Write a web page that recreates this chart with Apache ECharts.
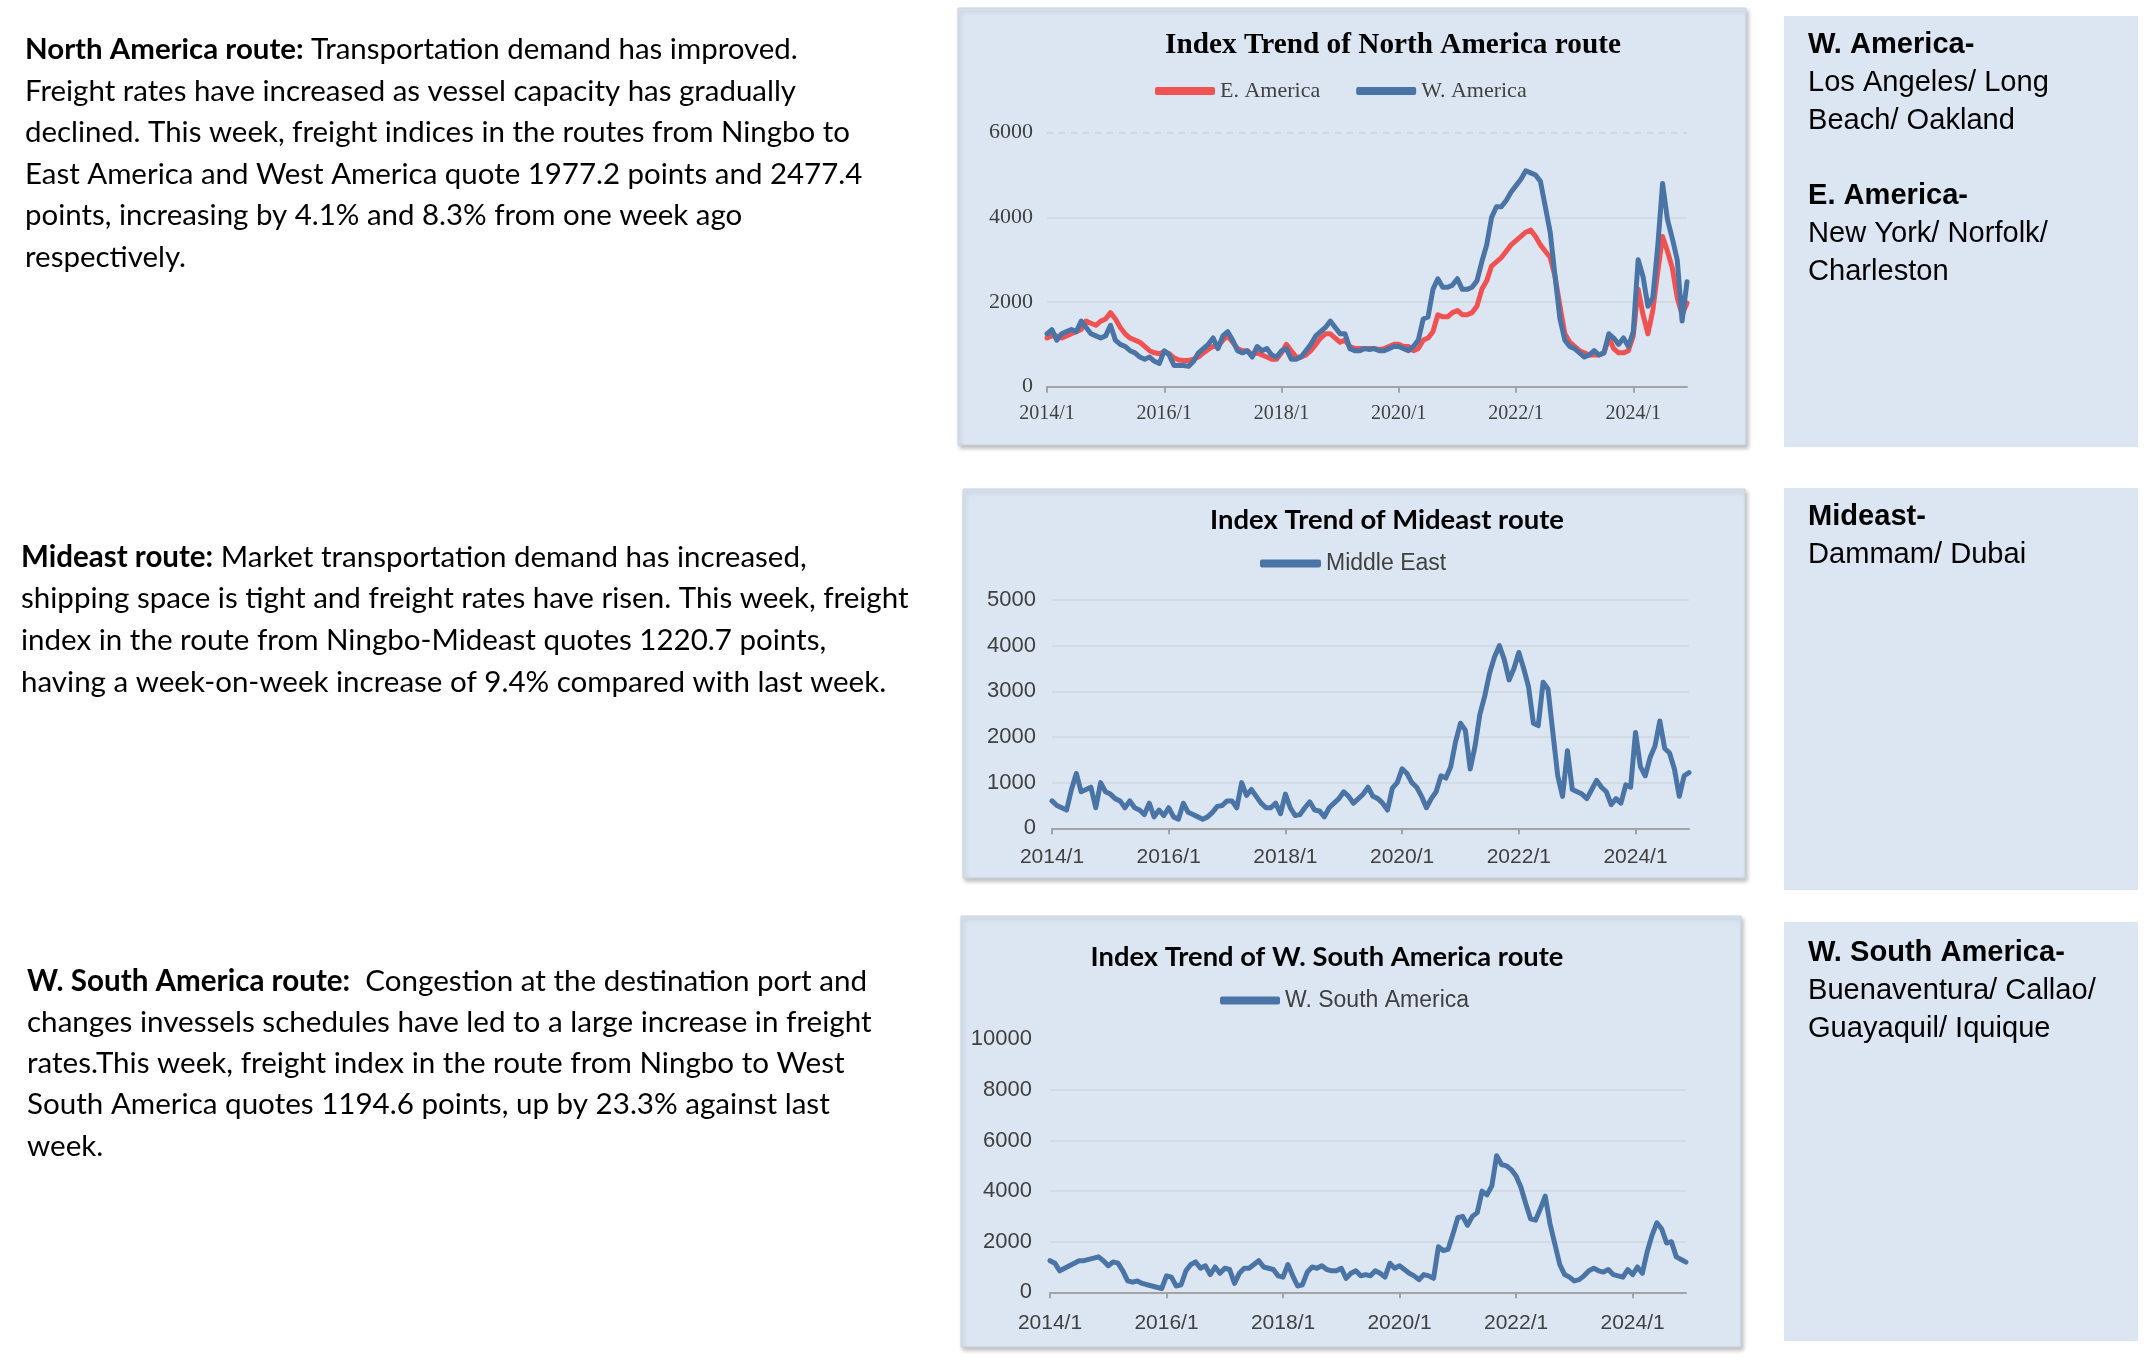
<!DOCTYPE html>
<html><head><meta charset="utf-8">
<script src="https://cdn.jsdelivr.net/npm/echarts@6/dist/echarts.min.js"></script>
<style>html,body{margin:0;padding:0;background:#fff;}#c{width:2146px;height:1362px;}</style>
</head><body><div id="c"></div>
<script>
// ---- categories (monthly, 2014/1 .. 2024/12) ----
const months = [];
for (let y = 2014; y <= 2024; y++) for (let m = 1; m <= 12; m++) months.push(y + '/' + m);

// ---- series values (monthly) ----
const eastAmerica = [
  1150,1200,1200,1150,1200,1250,1300,1350,1550,1500,1450,1550,
  1600,1750,1600,1400,1250,1150,1100,1050,950,850,800,780,
  820,780,680,630,620,620,650,700,800,880,950,950,
  1100,1200,1050,900,850,850,750,800,750,700,650,650,
  800,1000,850,700,700,750,850,1000,1150,1250,1250,1150,
  1050,1100,950,900,900,900,900,900,880,900,950,1000,
  1000,950,950,850,900,1100,1150,1300,1700,1650,1650,1750,
  1800,1700,1700,1750,1900,2300,2500,2850,2950,3050,3200,3350,
  3450,3550,3650,3700,3550,3350,3200,3050,2600,1900,1250,1050,
  950,850,800,750,750,750,800,1150,900,800,800,850,
  1200,2300,1700,1250,1800,2700,3550,3200,2800,2100,1700,1977.2
];
const westAmerica = [
  1250,1350,1100,1250,1300,1350,1300,1550,1400,1250,1200,1150,
  1200,1450,1100,1000,950,850,800,700,650,700,600,550,
  850,750,500,500,500,480,600,800,900,1000,1150,900,
  1200,1300,1100,850,800,850,700,950,850,900,750,700,
  850,900,650,650,700,850,1000,1200,1300,1400,1550,1400,
  1250,1250,900,850,850,900,880,900,850,850,900,950,
  950,900,850,950,1100,1600,1650,2300,2550,2350,2350,2400,
  2550,2300,2300,2350,2500,2950,3350,4000,4250,4250,4400,4600,
  4750,4900,5100,5050,5000,4850,4250,3650,2600,1600,1100,950,
  900,800,700,750,850,750,800,1250,1150,1000,1150,950,
  1300,3000,2600,1900,2100,3300,4800,3950,3500,3000,1550,2477.4
];
const middleEast = [
  600,500,450,400,850,1200,800,850,900,450,1000,800,
  750,650,600,450,600,450,400,300,550,250,400,280,
  450,250,200,550,350,300,250,200,250,350,480,500,
  600,600,450,1000,720,850,700,550,450,450,550,320,
  750,450,280,300,450,580,400,380,250,450,550,650,
  800,700,550,650,750,900,700,650,550,400,880,1000,
  1300,1200,1000,900,700,450,650,800,1150,1100,1350,1900,
  2300,2150,1300,1800,2500,2900,3400,3750,4000,3700,3250,3500,
  3850,3500,3100,2300,2250,3200,3050,2100,1150,700,1700,850,
  800,750,650,850,1050,900,800,520,650,550,950,900,
  2100,1350,1150,1550,1800,2350,1750,1650,1300,700,1150,1220.7
];
const westSouthAmerica = [
  1250,1150,850,950,1050,1150,1250,1250,1300,1350,1400,1250,
  1050,1200,1150,850,450,400,450,350,300,250,200,150,
  650,600,250,300,850,1100,1200,950,1050,700,1000,750,
  950,900,350,750,950,950,1100,1250,1000,950,900,650,
  600,1100,650,250,300,800,1000,950,1050,900,850,850,
  950,550,750,850,650,700,650,850,750,600,1150,950,
  1050,900,750,650,500,700,650,550,1800,1650,1700,2300,
  2950,3000,2650,3000,3150,4000,3850,4200,5400,5050,5000,4850,
  4600,4150,3500,2900,2850,3300,3800,2700,1900,1100,700,600,
  450,500,650,850,950,850,800,900,700,650,600,900,
  700,1000,750,1600,2250,2750,2500,1950,2000,1400,1300,1194.6
];

// ---- axis ticks ----
const naTicks = { min: 0, max: 6000, interval: 2000 };
const meTicks = { min: 0, max: 5000, interval: 1000 };
const wsaTicks = { min: 0, max: 10000, interval: 2000 };
const labelEvery = 24; // 2014/1, 2016/1, ...

const RED = '#f05252', BLUE = '#4a74a6', PANEL = '#dce6f2';
const SERIF = "'Liberation Serif','Times New Roman',serif";
const SANS = "'Liberation Sans',Arial,sans-serif";
const CAL = "Lato,'Noto Sans',sans-serif";

const ctx = document.createElement('canvas').getContext('2d');
function fit(text, weight, family, target) {
  ctx.font = weight + ' 100px ' + family;
  return 100 * target / ctx.measureText(text).width;
}

const p1 = [
  ['North America route:', ' Transportation demand has improved.'],
  ['', 'Freight rates have increased as vessel capacity has gradually'],
  ['', 'declined. This week, freight indices in the routes from Ningbo to'],
  ['', 'East America and West America quote 1977.2 points and 2477.4'],
  ['', 'points, increasing by 4.1% and 8.3% from one week ago'],
  ['', 'respectively.']
];
const p2 = [
  ['Mideast route:', ' Market transportation demand has increased,'],
  ['', 'shipping space is tight and freight rates have risen. This week, freight'],
  ['', 'index in the route from Ningbo-Mideast quotes 1220.7 points,'],
  ['', 'having a week-on-week increase of 9.4% compared with last week.']
];
const p3 = [
  ['W. South America route:', '  Congestion at the destination port and'],
  ['', 'changes invessels schedules have led to a large increase in freight'],
  ['', 'rates.This week, freight index in the route from Ningbo to West'],
  ['', 'South America quotes 1194.6 points, up by 23.3% against last'],
  ['', 'week.']
];
const boxes = [
  { x: 1784, y: 16, w: 354, h: 431, lines: [['W. America-', 1], ['Los Angeles/ Long', 0], ['Beach/ Oakland', 0], ['', 0], ['E. America-', 1], ['New York/ Norfolk/', 0], ['Charleston', 0]], y0: 45 },
  { x: 1784, y: 488, w: 354, h: 402, lines: [['Mideast-', 1], ['Dammam/ Dubai', 0]], y0: 517 },
  { x: 1784, y: 922, w: 354, h: 419, lines: [['W. South America-', 1], ['Buenaventura/ Callao/', 0], ['Guayaquil/ Iquique', 0]], y0: 953 }
];

const graphic = [];
function panel(x, y, w, h) {
  graphic.push({ type: 'rect', z: -5, shape: { x: x, y: y, width: w, height: h },
    style: { fill: PANEL, stroke: '#c9d3df', lineWidth: 1, shadowBlur: 4, shadowOffsetX: 2, shadowOffsetY: 3, shadowColor: 'rgba(0,0,0,0.25)' } });
}
panel(958, 8, 788, 437);
panel(963, 489, 782, 389);
panel(961, 916, 780, 431);
boxes.forEach(b => graphic.push({ type: 'rect', z: -5, shape: { x: b.x, y: b.y, width: b.w, height: b.h }, style: { fill: PANEL } }));

function paragraph(lines, x, y0, step, fs) {
  lines.forEach((ln, i) => {
    const txt = (ln[0] ? '{b|' + ln[0] + '}' : '') + ln[1];
    graphic.push({ type: 'text', z: 10, x: x, y: y0 + i * step,
      style: { text: txt, font: fs + 'px ' + CAL, fill: '#000', verticalAlign: 'middle', align: 'left',
        rich: { b: { font: 'bold ' + fs + 'px ' + CAL, fill: '#000' } } } });
  });
}
paragraph(p1, 25, 49.5, 41.5, fit(p1[2][1], 'normal', CAL, 825));
paragraph(p2, 21, 557, 41.7, fit(p2[1][1], 'normal', CAL, 888));
paragraph(p3, 27, 981, 41.3, fit(p3[1][1], 'normal', CAL, 845));

const boxFs = fit('Los Angeles/ Long', 'normal', SANS, 241);
boxes.forEach(b => b.lines.forEach((ln, i) => {
  if (!ln[0]) return;
  graphic.push({ type: 'text', z: 10, x: 1808, y: b.y0 + i * 37.8,
    style: { text: ln[0], font: (ln[1] ? 'bold ' : '') + boxFs + 'px ' + SANS, fill: '#000', verticalAlign: 'middle' } });
}));

function title(text, cx, cy, weight, family, target) {
  const fs = fit(text, weight, family, target);
  graphic.push({ type: 'text', z: 10, x: cx, y: cy,
    style: { text: text, font: weight + ' ' + fs + 'px ' + family, fill: '#000', align: 'center', verticalAlign: 'middle' } });
}
title('Index Trend of North America route', 1393, 45, 'bold', SERIF, 456);
title('Index Trend of Mideast route', 1387, 520, 'bold', CAL, 354);
title('Index Trend of W. South America route', 1327, 957, 'bold', CAL, 473);

function xAxis(gi, family, fs, margin) {
  const every = i => i % labelEvery === 0;
  return { type: 'category', gridIndex: gi, data: months, boundaryGap: false,
    axisLine: { lineStyle: { color: '#a3a3a3', width: 2 } },
    axisTick: { show: true, interval: every, length: 6, lineStyle: { color: '#a3a3a3', width: 2 } },
    axisLabel: { interval: every, color: '#404040', fontFamily: family, fontSize: fs, margin: margin },
    splitLine: { show: false } };
}
function yAxis(gi, t, family, fs, margin, colors) {
  return { type: 'value', gridIndex: gi, min: t.min, max: t.max, interval: t.interval,
    axisLine: { show: false }, axisTick: { show: false },
    axisLabel: { color: '#404040', fontFamily: family, fontSize: fs, margin: margin, formatter: v => String(v) },
    splitLine: { show: true, lineStyle: { color: colors, width: 2 } } };
}
const gl = '#d2dae4', tr = 'rgba(0,0,0,0)';

const lineSeries = (name, data, color, xi) => ({
  name: name, type: 'line', xAxisIndex: xi, yAxisIndex: xi, data: data, symbol: 'none',
  lineStyle: { color: color, width: 5, join: 'round', cap: 'round' }, itemStyle: { color: color }, z: 3
});

const option = {
  animation: false,
  backgroundColor: '#ffffff',
  graphic: graphic,
  grid: [
    { left: 1047, top: 132.7, width: 640, height: 254, outerBoundsMode: 'none' },
    { left: 1052, top: 600, width: 637, height: 228.3, outerBoundsMode: 'none' },
    { left: 1050, top: 1039.3, width: 636, height: 253, outerBoundsMode: 'none' }
  ],
  legend: [
    { data: ['E. America', 'W. America'], left: 1155, top: 80, padding: 0, itemWidth: 60, itemHeight: 8, itemGap: 36, icon: 'roundRect',
      textStyle: { fontFamily: SERIF, fontSize: 22, color: '#404040' } },
    { data: ['Middle East'], left: 1260, top: 552, padding: 0, itemWidth: 61, itemHeight: 8, icon: 'roundRect',
      textStyle: { fontFamily: SANS, fontSize: 23, color: '#404040' } },
    { data: ['W. South America'], left: 1220, top: 989, padding: 0, itemWidth: 60, itemHeight: 8, icon: 'roundRect',
      textStyle: { fontFamily: SANS, fontSize: 23, color: '#404040' } }
  ],
  xAxis: [xAxis(0, SERIF, 20, 17), xAxis(1, SANS, 21, 18), xAxis(2, SANS, 21, 20)],
  yAxis: [
    yAxis(0, naTicks, SERIF, 22, 14, [gl, gl, gl, tr]),
    yAxis(1, meTicks, SANS, 22, 16, [gl, gl, gl, gl, gl, gl]),
    yAxis(2, wsaTicks, SANS, 22, 18, [gl, gl, gl, gl, gl, tr])
  ],
  series: [
    lineSeries('E. America', eastAmerica, RED, 0),
    Object.assign(lineSeries('W. America', westAmerica, BLUE, 0), {
      markLine: { silent: true, symbol: 'none', label: { show: false },
        lineStyle: { color: '#cdd5df', type: [6, 6], width: 2 }, data: [{ yAxis: 6000 }] } }),
    lineSeries('Middle East', middleEast, BLUE, 1),
    lineSeries('W. South America', westSouthAmerica, BLUE, 2)
  ]
};
const chart = echarts.init(document.getElementById('c'), null, { renderer: 'canvas' });
chart.setOption(option);
</script></body></html>
